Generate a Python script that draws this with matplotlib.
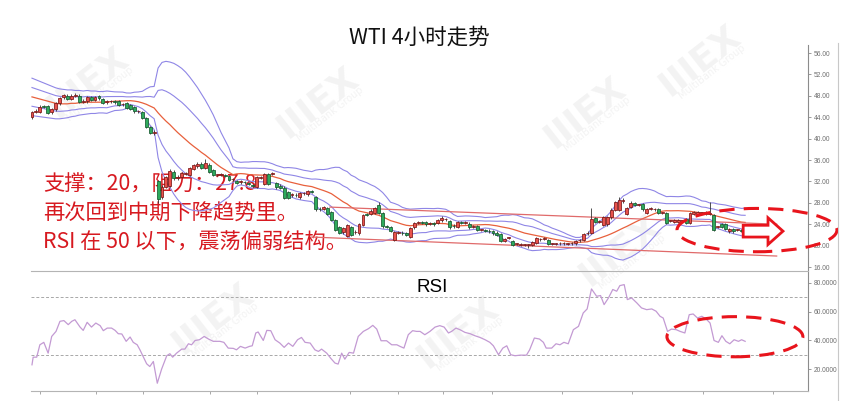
import numpy as np
import pandas as pd
import matplotlib
matplotlib.use("Agg")
import matplotlib.pyplot as plt
from matplotlib.patches import Ellipse, Polygon, Rectangle
from matplotlib.lines import Line2D

plt.rcParams['font.family'] = ['Noto Sans CJK SC', 'DejaVu Sans']

# ---------------- data ----------------
opens = [44.0,45.0,45.0,46.0,46.1,44.9,45.5,46.6,47.7,48.0,
         47.4,48.0,48.0,46.9,47.0,47.7,47.3,47.9,47.4,46.8,
         47.0,47.0,47.0,46.4,46.6,46.2,45.9,45.1,44.9,43.8,
         42.2,41.0,32.0,29.0,31.0,31.2,33.8,32.6,32.8,33.4,
         33.2,34.4,34.8,35.3,34.5,35.1,34.1,33.2,33.2,33.2,
         33.0,32.4,32.0,31.8,31.9,31.6,31.3,31.0,32.7,31.6,
         33.4,33.4,31.7,31.2,30.8,30.0,29.4,29.5,29.0,29.8,
         29.6,30.1,29.1,26.9,26.9,27.0,26.3,24.8,23.5,22.5,
         21.8,23.5,22.5,22.3,23.9,25.9,25.9,26.1,27.6,26.1,
         23.6,23.4,21.1,22.4,22.4,22.3,21.7,23.4,24.2,24.3,
         24.4,24.1,24.2,24.3,24.7,24.9,24.6,23.7,23.5,24.3,
         24.2,24.1,23.5,23.6,22.9,22.9,22.8,22.7,22.4,22.2,
         20.9,21.4,20.8,20.3,20.2,20.1,20.1,20.1,20.5,21.2,
         21.3,21.0,20.3,20.3,20.4,20.4,20.3,20.4,20.4,21.0,
         21.1,22.3,22.4,25.1,24.5,23.9,24.0,25.3,26.7,26.7,
         28.3,25.9,27.2,27.9,27.6,27.7,26.1,26.9,26.8,26.8,
         26.1,26.1,24.6,24.4,24.4,24.6,24.9,24.2,26.0,26.0,
         26.1,26.2,26.0,25.7,23.5,24.0,24.0,22.7,23.1,22.9,
         22.9,22.8]
closes = [45.0,45.2,46.0,45.9,44.8,45.5,46.6,47.6,48.1,47.4,
          48.0,48.2,46.9,47.1,47.7,47.3,47.8,47.5,46.7,47.0,
          47.0,46.8,46.3,46.5,45.7,45.6,45.1,45.1,43.9,42.2,
          41.1,41.3,28.8,31.0,32.8,34.0,32.6,32.9,33.5,33.5,
          34.5,35.0,35.3,34.6,35.5,33.8,33.2,33.2,33.3,33.1,
          32.3,32.4,31.7,32.0,31.8,31.5,31.2,32.8,32.8,33.4,
          31.6,33.5,30.9,30.8,28.9,28.9,29.6,29.4,29.8,29.8,
          30.2,30.0,26.8,26.8,27.2,26.0,24.8,22.9,22.4,23.2,
          23.8,22.0,22.6,24.0,25.7,25.7,26.5,27.0,26.1,23.6,
          23.5,22.8,22.5,22.5,22.3,22.0,23.3,24.2,24.3,24.2,
          24.0,24.2,24.0,24.8,25.2,24.9,23.4,23.6,24.4,24.2,
          24.3,23.4,23.6,23.0,22.9,22.8,22.7,22.3,22.0,20.9,
          21.2,21.4,20.2,20.3,20.2,20.1,20.1,20.6,21.4,21.2,
          21.4,20.3,20.3,20.3,20.4,20.4,20.3,20.4,20.8,21.0,
          22.2,22.4,25.0,24.5,24.6,25.3,25.3,26.7,28.1,28.5,
          28.6,27.0,28.0,27.6,27.6,26.8,26.8,26.9,26.8,26.1,
          26.1,24.2,24.6,24.8,24.8,24.6,24.2,26.1,26.2,26.2,
          26.1,25.9,26.0,22.9,23.5,23.5,23.1,23.1,22.7,22.9,
          22.8,22.7]
long_highs = {44: 36.2, 88: 28.2, 142: 27.0, 149: 29.0, 172: 28.1}
long_lows = {32: 28.0, 126: 19.6}

# band middle / width for the first bars (history before the window)
early_mid = [47.8,47.6,47.4,47.2,47.0,46.8,46.6,46.5,46.5,46.5,
             46.6,46.6,46.7,46.7,46.8,46.8,46.8,46.8,46.8]
early_sd = [1.75,1.70,1.65,1.60,1.55,1.50,1.45,1.40,1.35,1.30,
            1.25,1.20,1.15,1.10,1.10,1.05,1.05,1.00,1.00]

# RSI readings: bar position, value
rsi_bar = [0,0.3,1.2,2.0,3.0,4.1,5.0,6.1,7.1,8.1,9.2,10.1,10.9,12.2,13.0,14.0,15.1,16.2,17.3,18.1,
           19.1,20.2,21.1,21.9,22.8,23.9,24.9,25.7,26.7,27.4,28.3,29.1,29.9,30.8,31.8,32.9,34.2,35.0,35.7,36.7,
           38.0,38.8,39.7,40.5,41.4,42.5,43.7,44.8,46.0,47.7,48.7,49.8,51.1,51.9,52.9,54.1,55.2,55.9,56.8,57.4,
           58.7,59.6,60.6,61.7,62.9,64.0,65.1,66.2,67.4,68.4,69.3,70.6,71.8,72.7,73.5,74.8,75.8,76.9,77.7,78.6,
           79.4,80.5,81.6,82.8,84.1,85.4,86.5,87.5,88.6,90.0,91.3,92.6,93.4,94.4,95.5,96.6,97.6,98.5,99.7,101.0,
           102.3,103.5,104.6,105.7,106.5,107.6,108.6,109.9,111.2,112.4,113.7,115.0,116.2,117.1,118.4,119.5,120.5,121.5,122.6,123.9,
           125.5,126.3,127.5,128.8,129.8,130.5,131.9,133.0,134.0,135.0,136.1,137.4,138.7,139.9,140.9,142.0,143.3,144.3,145.2,146.3,
           147.4,148.4,149.2,150.3,151.1,152.2,153.5,154.7,156.0,157.3,158.4,159.4,160.2,161.3,162.3,163.5,164.5,165.7,166.8,167.8,
           168.9,170.0,171.1,172.1,173.1,174.2,175.1,176.1,177.1,178.2,179.3,180.1,181.0]
rsi_val = [23.1,28.4,28.4,37.0,38.7,31.2,42.8,46.3,53.3,53.8,51.0,53.3,54.4,49.3,47.0,52.6,49.3,52.1,50.3,46.8,
           48.6,48.6,47.0,44.7,44.5,39.4,42.4,38.7,37.0,33.5,28.4,23.8,21.9,25.4,10.3,20.1,29.4,30.8,28.4,31.2,
           34.0,34.0,37.7,37.0,40.0,40.5,42.8,41.0,39.4,39.4,38.7,34.7,34.5,33.5,35.9,34.7,35.9,36.3,45.2,45.9,
           40.0,47.0,46.8,40.5,38.2,35.2,38.2,35.9,40.5,42.1,38.7,38.2,33.5,32.4,34.0,31.2,27.7,24.3,23.6,31.2,
           27.0,31.7,31.2,42.8,46.3,48.2,50.5,47.9,39.8,39.8,37.0,37.0,35.9,34.7,44.0,46.8,46.3,46.3,44.0,46.3,
           49.3,50.3,49.3,45.2,46.3,48.6,47.5,45.6,44.7,43.3,42.1,40.5,38.7,36.3,30.1,34.7,36.3,30.1,29.4,29.8,
           29.8,33.5,41.7,41.0,38.7,34.7,34.7,37.7,37.0,38.7,37.7,47.5,49.8,59.1,61.9,75.8,70.7,71.2,64.9,69.5,
           75.4,74.2,78.1,78.8,68.4,69.5,66.1,62.6,61.4,61.9,60.3,56.8,55.6,46.3,47.9,47.5,46.3,45.2,57.9,58.4,
           55.6,56.8,54.9,52.1,40.0,38.7,43.3,39.4,37.7,40.5,39.4,40.5,39.4]

price_ticks = [16, 20, 24, 28, 32, 36, 40, 44, 48, 52, 56]
rsi_ticks = [20, 40, 60, 80]
rsi_levels = [30, 70]
time_ticks = [2, 16.2, 28.2, 45.2, 57.1, 80.7, 92.9, 104.3, 116.8, 134.5, 152.3, 170.3, 188]
channel_upper = ([75.6, 189.0], [27.2, 24.0])
channel_lower = ([71.0, 189.0], [21.6, 18.05])

title = "WTI 4小时走势"
notes = ["支撑：20，阻力：27.8", "再次回到中期下降趋势里。", "RSI 在 50 以下，震荡偏弱结构。"]
watermark_main = "IIIEX"
watermark_sub = "MultiBank Group"

# ---------------- derived indicators ----------------
s = pd.Series(closes)
ma20 = s.rolling(20).mean()
sd20 = s.rolling(20).std(ddof=0)
n0 = len(early_mid)
ma20.iloc[:n0] = early_mid
sd20.iloc[:n0] = early_sd

# ---------------- figure ----------------
W, H = 845, 401
fig = plt.figure(figsize=(W / 100, H / 100), dpi=100)
fig.patch.set_facecolor('white')

def fx(px):
    return px / W

def fy(py):
    return 1 - py / H

# faint background watermarks (drawn beneath the axes)
for cx, cy in [(88, 82), (318, 102), (585, 112), (620, 250),
               (213, 318), (458, 332), (700, 60)]:
    fig.text(fx(cx), fy(cy), watermark_main, fontsize=26, fontweight='bold', family='DejaVu Sans',
             color='#f3f3f3', rotation=38, ha='center', va='center', zorder=-2)
    fig.text(fx(cx + 12), fy(cy + 12), watermark_sub, fontsize=7, family='DejaVu Sans',
             color='#f3f3f3', rotation=38, ha='center', va='center', zorder=-2)

axp = fig.add_axes([fx(31), fy(270), fx(808) - fx(31), fy(45) - fy(270)])
axr = fig.add_axes([fx(31), fy(391), fx(808) - fx(31), fy(270.5) - fy(391)])

XL = (-0.25, 196.95)
for ax in (axp, axr):
    ax.set_xlim(*XL)
    ax.set_facecolor('none')
    for sp in ('left', 'top'):
        ax.spines[sp].set_visible(False)
    ax.spines['right'].set_color('#8c8c8c')
    ax.spines['bottom'].set_color('#b4b4b4')
    ax.yaxis.tick_right()
    ax.tick_params(axis='y', direction='out', length=2.5, width=0.6, colors='#8c8c8c',
                   labelsize=4.8, labelcolor='#6e6e6e', pad=1.5)

axp.spines['bottom'].set_visible(False)
axp.set_ylim(15.44, 57.5)
axp.set_yticks(price_ticks)
axp.set_yticklabels([f"{t:.2f}" for t in price_ticks], family='Liberation Sans')
axp.set_xticks([])

axr.set_ylim(4.9, 88.6)
axr.spines['top'].set_visible(True)
axr.spines['top'].set_color('#b4b4b4')
axr.set_yticks(rsi_ticks)
axr.set_yticklabels([f"{t:.4f}" for t in rsi_ticks], family='Liberation Sans')
axr.set_xticks(time_ticks)
axr.set_xticklabels([])
axr.tick_params(axis='x', direction='out', length=2.5, width=0.6, colors='#9a9a9a')

# bands and averages
x = np.arange(len(closes))
purple = '#8f86e6'
for k in (2, 1, -1, -2):
    axp.plot(x, ma20 + k * sd20, color=purple, lw=0.8, zorder=2)
axp.plot(x, ma20, color='#e8603c', lw=0.9, zorder=2)

# channel lines
axp.plot(*channel_upper, color='#e06a6a', lw=0.9, zorder=2)
axp.plot(*channel_lower, color='#e06a6a', lw=0.9, zorder=2)

# candles
bw = 0.74
for i, (o, c) in enumerate(zip(opens, closes)):
    up = c >= o
    hi = long_highs.get(i, max(o, c) + 0.25)
    lo = long_lows.get(i, min(o, c) - 0.25)
    axp.vlines(i, lo, hi, color='#333333', lw=0.6, zorder=4)
    body = max(abs(c - o), 0.12)
    face = '#e8524c' if up else '#2eaa5c'
    edge = '#7a1616' if up else '#17592f'
    axp.add_patch(Rectangle((i - bw / 2, min(o, c)), bw, body, facecolor=face,
                            edgecolor=edge, lw=0.55, zorder=5))

# annotation text
red = '#d71920'
for t, py in zip(notes, [185, 214, 243]):
    fig.text(fx(43), fy(py), t, color=red, fontsize=15.3, va='center', ha='left', zorder=-1)

# dashed ellipses and arrow
axp.add_patch(Ellipse((184.0, 22.9), 40.6, 8.1, fill=False, edgecolor='#e8141c', lw=2.2,
                      ls=(0, (5, 3)), clip_on=False, zorder=6))
arrow = [(180.5, 21.6), (186.8, 21.6), (186.8, 20.2), (190.6, 22.7),
         (186.8, 25.2), (186.8, 23.8), (180.5, 23.8)]
axp.add_patch(Polygon(arrow, closed=True, facecolor='white', edgecolor='#e8141c', lw=2.0,
                      clip_on=False, zorder=7))

# RSI
axr.plot(rsi_bar, rsi_val, color='#c39ad3', lw=0.9, zorder=3)
for lv in rsi_levels:
    axr.axhline(lv, color='#a8a8a8', lw=0.7, ls=(0, (3, 2)), zorder=1)
axr.add_patch(Ellipse((178.4, 42.6), 34.5, 27.9, fill=False, edgecolor='#e8141c', lw=2.2,
                      ls=(0, (5, 3)), clip_on=False, zorder=6))
fig.text(fx(432), fy(288), "RSI", fontsize=13.5, family='Liberation Sans', ha='center',
         va='center', color='black')

# title
fig.text(fx(419), fy(38), title, fontsize=15.5, ha='center', va='center', color='#111111')

# right panel border
fig.add_artist(Rectangle((fx(838), 0), 1 - fx(838), fy(43), transform=fig.transFigure,
                         facecolor='white', edgecolor='none', zorder=20))
fig.add_artist(Line2D([fx(838), fx(838)], [0, fy(43)], transform=fig.transFigure,
                      color='#c8c8c8', lw=0.8, zorder=21))

fig.savefig('out.png', dpi=100)
